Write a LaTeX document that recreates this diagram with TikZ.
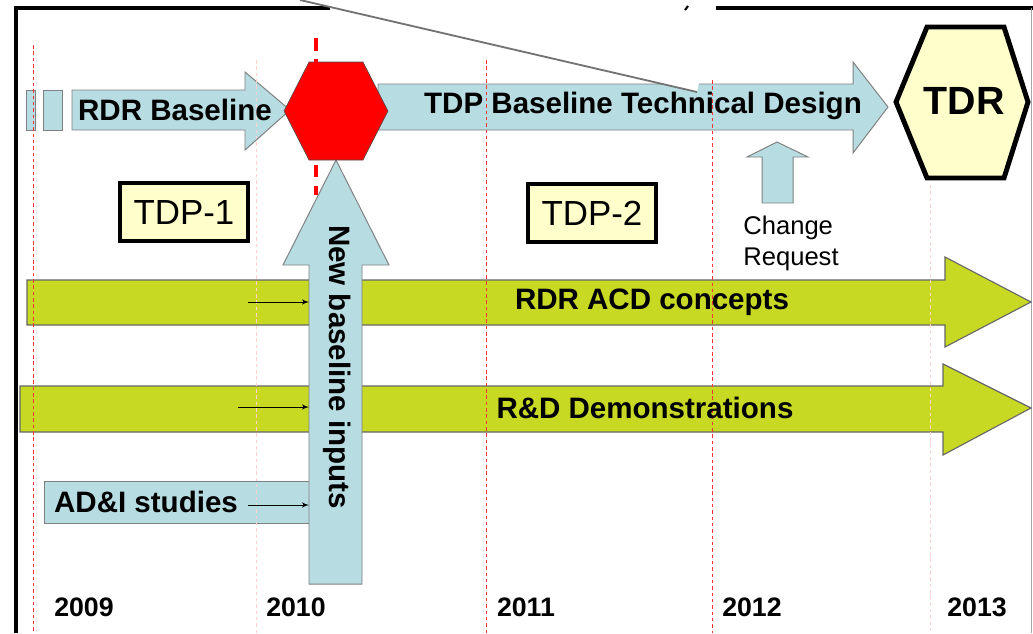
\documentclass[tikz,border=0pt]{standalone}
\usepackage{fontspec}
\setmainfont{Liberation Sans}
\usetikzlibrary{arrows}
\definecolor{planblue}{RGB}{183,221,226}
\definecolor{plangreen}{RGB}{200,217,36}
\definecolor{planyellow}{RGB}{255,255,204}
\tikzstyle{frame} = [draw, line width=2.2pt, black]
\tikzstyle{blockarrow} = [draw=black!50, line width=0.7pt, fill=planblue]
\tikzstyle{band} = [draw=black!60, line width=0.8pt, fill=plangreen]
\tikzstyle{boldtext} = [font=\fontsize{21}{24}\selectfont\bfseries, inner sep=0pt]
\tikzstyle{yeartext} = [font=\fontsize{19}{22}\selectfont\bfseries, inner sep=0pt]
\tikzstyle{plaintext} = [font=\fontsize{18.2}{22}\selectfont, inner sep=0pt, align=left]
\tikzstyle{phase} = [rectangle, draw, line width=2.2pt, fill=planyellow, minimum width=3.2cm, minimum height=1.45cm, font=\fontsize{24.8}{27}\selectfont]
\tikzstyle{yearline} = [draw, red!80, line width=0.5pt, dash pattern=on 2.5pt off 2pt]
\tikzstyle{feed} = [draw, line width=0.7pt, -latex']

\begin{document}
\begin{tikzpicture}[x=0.025cm, y=-0.025cm]
		\useasboundingbox (0,0) rectangle (1033,633);
		% Frame
		\draw[frame] (16,633) -- (16,8) -- (330,8);
		\draw[frame] (716,8) -- (1033,8);
		\draw[black!35, thin] (1031,8) -- (1031,633);
		% Green bands
		\filldraw[band] (27,280) -- (945,280) -- (945,257) -- (1031,302) -- (945,347) -- (945,325) -- (27,325) -- cycle;
		\filldraw[band] (20,386) -- (943,386) -- (943,364) -- (1031,408) -- (943,455) -- (943,432) -- (20,432) -- cycle;
		% Blue arrows
		\filldraw[blockarrow] (26,90) rectangle (35,130);
		\filldraw[blockarrow] (43,90) rectangle (62,130);
		\filldraw[blockarrow] (72,90) -- (245,90) -- (245,72) -- (290,110) -- (245,150) -- (245,130) -- (72,130) -- cycle;
		\filldraw[blockarrow] (378,84) -- (853,84) -- (853,62) -- (888,107) -- (853,153) -- (853,130) -- (378,130) -- cycle;
		\filldraw[blockarrow] (762,203) -- (762,157) -- (747,157) -- (777,142) -- (808,157) -- (793,157) -- (793,203) -- cycle;
		\filldraw[blockarrow] (44,481) rectangle (309,523);
		\filldraw[blockarrow] (309,584) -- (309,265) -- (283,265) -- (336,160) -- (389,265) -- (362,265) -- (362,584) -- cycle;
		% Milestones
		\filldraw[draw=black!70, fill=red] (309,62) -- (363,62) -- (388,111) -- (363,160) -- (309,160) -- (284,111) -- cycle;
		\filldraw[line width=3.5pt, fill=planyellow] (927,27) -- (1004,27) -- (1028,102) -- (1004,178) -- (927,178) -- (896,102) -- cycle;
		% Cut-away wedge
		\fill[white] (298,-2) -- (697,92) -- (717,-2) -- cycle;
		\draw[black!55, line width=1.3pt] (300,0) -- (697,92);
		\draw[black, line width=1.5pt] (685,10) -- (688,6);
		% Year lines
		\foreach \x/\y in {33/45, 486/60, 712/80}
			\draw[yearline] (\x,\y) -- (\x,633);
		\foreach \x/\y in {256/60, 930/185}
			\draw[yearline, red!18] (\x,\y) -- (\x,633);
		\draw[red, line width=2.2pt, dash pattern=on 9pt off 6pt] (316,38) -- (316,195);
		% Place nodes
		\node[boldtext] (rdr) at (175,110) {RDR Baseline};
		\node[boldtext] (tdp) at (643,106) {TDP Baseline Technical Design};
		\node[boldtext, font=\fontsize{28}{30}\selectfont\bfseries] (tdr) at (964,101) {TDR};
		\node[plaintext] (change) at (791,243) {Change\\Request};
		\node[phase] (tdp1) at (184,212) {TDP-1};
		\node[phase] (tdp2) at (592,213) {TDP-2};
		\node[boldtext] (acd) at (652,302) {RDR ACD concepts};
		\node[boldtext] (demo) at (645,408) {R\&D Demonstrations};
		\node[boldtext] (adi) at (146,502) {AD\&I studies};
		\node[boldtext, rotate=-90] (inputs) at (337,367) {New baseline inputs};
		\foreach \yr/\x in {2009/84, 2010/296, 2011/526, 2012/752, 2013/977}
			\node[yeartext] (y\yr) at (\x,607) {\yr};
		% Draw edges
		\coordinate (nbl) at (309,0);
		\coordinate (f1) at (248,302);
		\coordinate (f2) at (238,407);
		\coordinate (f3) at (248,505);
		\path[feed] (f1) -- (f1 -| nbl);
		\path[feed] (f2) -- (f2 -| nbl);
		\path[feed] (f3) -- (f3 -| nbl);
	\end{tikzpicture}
\end{document}
